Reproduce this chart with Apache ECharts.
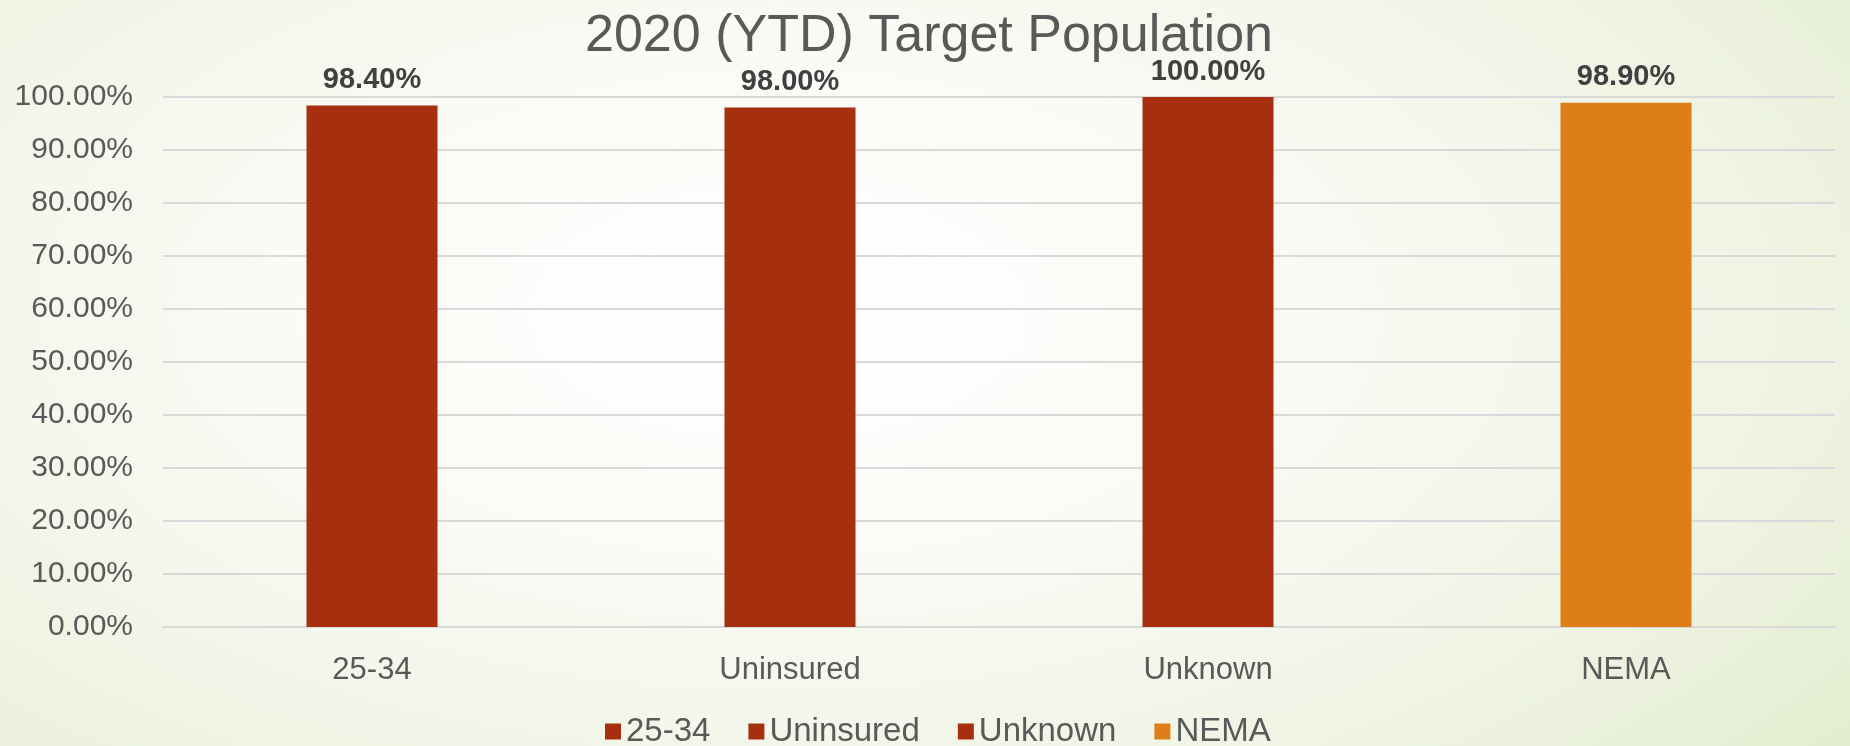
<!DOCTYPE html>
<html>
<head>
<meta charset="utf-8">
<script src="https://cdn.jsdelivr.net/npm/echarts@6/dist/echarts.min.js"></script>
<style>
html,body{margin:0;padding:0;}
#chart{width:1850px;height:746px;background:radial-gradient(ellipse 75% 95% at 42% 42%, #ffffff 0%, #fafbf6 35%, #eef3e2 75%, #e3ecce 100%);}
</style>
</head>
<body>
<div id="chart"></div>
<script>
const titleText = '2020 (YTD) Target Population';
const categories = ['25-34', 'Uninsured', 'Unknown', 'NEMA'];
const seriesNames = ['25-34', 'Uninsured', 'Unknown', 'NEMA'];
const values = [98.4, 98.0, 100.0, 98.9];
const colors = ['#A52F0F', '#A52F0F', '#A52F0F', '#DE7E18'];
const yTicks = { min: 0, max: 100, interval: 10 };

const chart = echarts.init(document.getElementById('chart'), null, { renderer: 'canvas' });
const FONT = '"Liberation Sans", Arial, sans-serif';

const series = seriesNames.map((name, i) => ({
  name: name,
  type: 'bar',
  stack: 'all',
  barWidth: 131,
  itemStyle: { color: colors[i] },
  data: categories.map((c, j) => (j === i ? values[i] : '-')),
  label: {
    show: true,
    position: 'top',
    distance: 11,
    formatter: p => p.value.toFixed(2) + '%',
    fontFamily: FONT,
    fontWeight: 'bold',
    fontSize: 29,
    color: '#404040'
  }
}));

chart.setOption({
  backgroundColor: 'transparent',
  animation: false,
  title: {
    text: titleText,
    top: 6,
    left: 924,
    textAlign: 'center',
    textStyle: { fontFamily: FONT, fontWeight: 'normal', fontSize: 52, color: '#595959' }
  },
  legend: {
    data: seriesNames,
    bottom: -7,
    left: 600,
    itemWidth: 16,
    itemHeight: 16,
    itemGap: 38,
    icon: 'rect',
    textStyle: { fontFamily: FONT, fontSize: 33, color: '#595959' }
  },
  grid: { left: 163, right: 15, top: 97, bottom: 119, containLabel: false },
  xAxis: {
    type: 'category',
    data: categories,
    axisLine: { lineStyle: { color: '#D9D9D9', width: 2 } },
    axisTick: { show: false },
    axisLabel: { fontFamily: FONT, fontSize: 31, color: '#595959', margin: 28 }
  },
  yAxis: {
    type: 'value',
    min: yTicks.min,
    max: yTicks.max,
    interval: yTicks.interval,
    axisLine: { show: false },
    axisTick: { show: false },
    splitLine: { lineStyle: { color: '#D9D9D9', width: 2 } },
    axisLabel: {
      fontFamily: FONT, fontSize: 30, color: '#595959', margin: 30,
      formatter: v => v.toFixed(2) + '%'
    }
  },
  series: series
});
</script>
</body>
</html>
